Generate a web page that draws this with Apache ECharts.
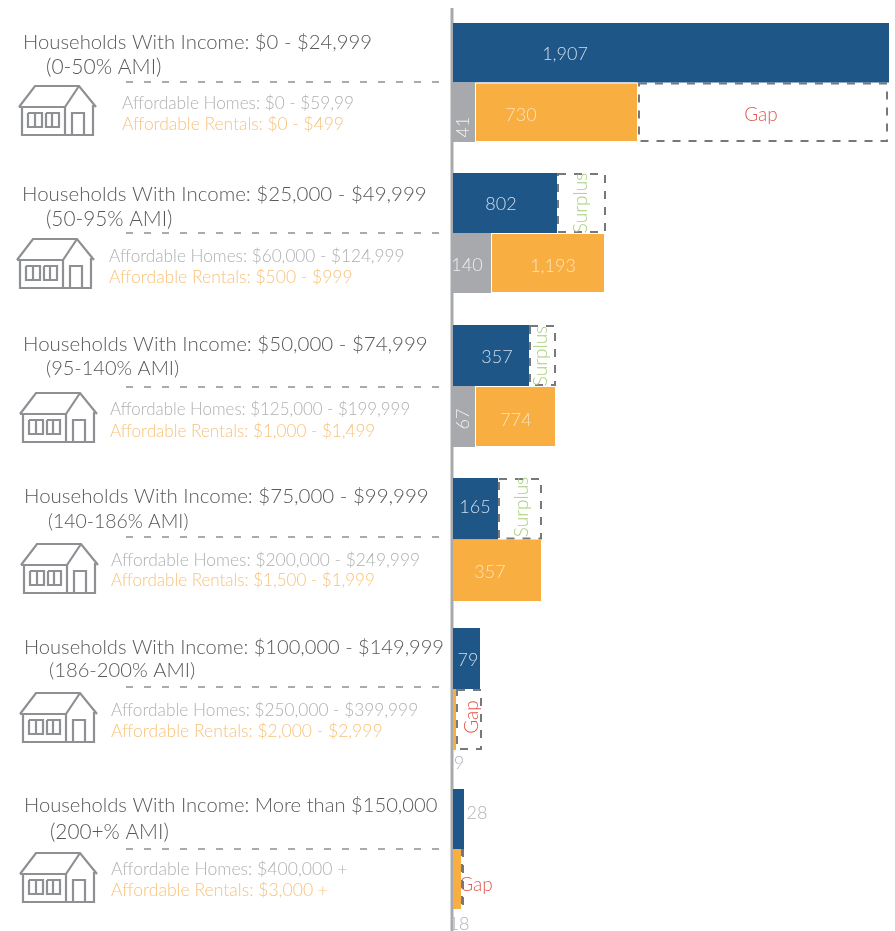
<!DOCTYPE html>
<html>
<head>
<meta charset="utf-8">
<style>html,body{margin:0;padding:0;background:#fff}#c{width:895px;height:931px}</style>
<script src="https://cdn.jsdelivr.net/npm/echarts@6/dist/echarts.min.js"></script>
</head>
<body>
<div id="c"></div>
<script>
// Text
const incomeTitles = [
  'Households With Income: $0 - $24,999',
  'Households With Income: $25,000 - $49,999',
  'Households With Income: $50,000 - $74,999',
  'Households With Income: $75,000 - $99,999',
  'Households With Income: $100,000 - $149,999',
  'Households With Income: More than $150,000'
];
const amiLabels = ['(0-50% AMI)','(50-95% AMI)','(95-140% AMI)','(140-186% AMI)','(186-200% AMI)','(200+% AMI)'];
const homesText = [
  'Affordable Homes: $0 - $59,99',
  'Affordable Homes: $60,000 - $124,999',
  'Affordable Homes: $125,000 - $199,999',
  'Affordable Homes: $200,000 - $249,999',
  'Affordable Homes: $250,000 - $399,999',
  'Affordable Homes: $400,000 +'
];
const rentalsText = [
  'Affordable Rentals: $0 - $499',
  'Affordable Rentals: $500 - $999',
  'Affordable Rentals: $1,000 - $1,499',
  'Affordable Rentals: $1,500 - $1,999',
  'Affordable Rentals: $2,000 - $2,999',
  'Affordable Rentals: $3,000 +'
];
const rowNames = ['Households', 'Homes'];

// Printed values
const householdsPrinted = ['1,907','802','357','165','79','28'];
const homesPrinted      = ['41','140','67','','9',''];
const rentalsPrinted    = ['730','1,193','774','357','','18'];
const balanceWords      = ['Gap','Surplus','Surplus','Surplus','Gap','Gap'];

// Drawn bar lengths (the source graphic is not to a single scale)
const householdsDrawn = [436,104,76,45,27,11];
const surplusDrawn    = [0,49,27,44,0,0];
const homesDrawn      = [22,38,22,0,0,0];
const rentalsDrawn    = [163,114,81,88,3,8];
const gapDrawn        = [250,0,0,0,26,3];

// Layout
const FONT = 'Lato';
const AXIS_X = 453, AXIS_SPAN = 442;
const gridTop = [23,173,325,478,628,789];
const gridH   = [119,120,122,123,122,120];
const titleXY = [[23,42],[22,194],[23,344],[24,496],[24,648],[24,805]];
const amiXY   = [[46,67],[46,219],[46,369],[48,522],[49,670],[50,832]];
const infoX   = [122,109,110,111,111,111];
const infoY   = [[103,124],[256,277],[410,431],[560,581],[710,731],[869,890]];
const ruleY   = [82,233,387,537,687,849];
const iconXY  = [[10,75],[8,228],[11,382],[12,533],[11,682],[11,842]];
const titleSize   = [20.3,20.5,20.5,20.5,20.1,20.2];
const amiSize     = [21,20.8,20,19.4,20.2,20.8];
const homesSize   = [17.2,17.2,16.9,17.4,17.3,17.6];
const rentalsSize = [17.4,17.5,17.1,17,17.5,17.6];
const houseLines = [
  [[9,32],[25,11],[69,11],[86,32]],
  [[69,11],[55,32],[9,32]],
  [[12,32],[12,60],[83,60],[83,30]],
  [[55,32],[55,60]],
  [[62,60],[62,38],[74,38],[74,60]],
  [[18,38],[32,38],[32,52],[18,52],[18,38]],
  [[25,38],[25,52]],
  [[36,38],[49,38],[49,52],[36,52],[36,38]],
  [[42,38],[42,52]]
];

const labelAt = {
  households: [[565,54],[501,204],[497,357],[475,507],[468,660],[477,813]],
  homes:      [[463,127],[467,265],[463,419],null,[459,763],null],
  rentals:    [[521,115],[553,266],[516,420],[490,572],null,[459,924]],
  balance:    [[761,115],[581,203],[541,356],[522,507],[472,717],[476,885]]
};

const C = {blue:'#1f5688', grey:'#a7a9ac', orange:'#f9ae42', dash:'#77787b',
           onBlue:'#cfdeec', onOrange:'#fde3b8', onGrey:'#eeeeee', gap:'#e2574c',
           surplus:'#a8cf7c', faint:'#b1b3b6', title:'#58595b', homes:'#aeb0b2', rentals:'#f8c27a'};

const grids=[], xAxes=[], yAxes=[], series=[], graphics=[];

function barLabel(text, at, start, len, row, g, color, rotate, size){
  if(!text || !at) return {show:false};
  const cx = AXIS_X + start + len/2;
  const cy = gridTop[g] + gridH[g]*(row===0?0.25:0.75);
  const dx = at[0]-cx, dy = at[1]-cy;
  // A rotated label's offset turns with it, so undo the quarter turn.
  const offset = rotate ? [-dy, dx] : [dx, dy];
  return {show:true, formatter:text, position:'inside', color, rotate:rotate||0,
          fontFamily:FONT, fontWeight:300, fontSize:size||18, offset};
}
function addSeries(name, g, row, start, len, itemStyle, label, z){
  const d = [null,null];
  d[row] = {value:len, label};
  series.push({name, type:'bar', xAxisIndex:g, yAxisIndex:g, stack:'g'+g, barWidth:'100%',
    barCategoryGap:0, z, itemStyle, silent:true, data:d, animation:false});
}

incomeTitles.forEach((t,g)=>{
  grids.push({left:AXIS_X, width:AXIS_SPAN, top:gridTop[g], height:gridH[g]});
  xAxes.push({gridIndex:g, type:'value', min:0, max:AXIS_SPAN, show:false});
  yAxes.push({gridIndex:g, type:'category', inverse:true, data:rowNames, show:false});

  const dashed = {color:'rgba(255,255,255,0)', borderColor:C.dash, borderWidth:2, borderType:[8,8]};
  const word = balanceWords[g];
  const wordRot = (g===0 || g===5) ? 0 : 90;
  const wordCol = word==='Gap' ? C.gap : C.surplus;
  const hh = householdsDrawn[g], ho = homesDrawn[g], re = rentalsDrawn[g];

  // Household row
  addSeries('Households', g, 0, 0, hh, {color:C.blue},
    barLabel(householdsPrinted[g], labelAt.households[g], 0, hh, 0, g, g===5?C.faint:C.onBlue), 3);
  if(surplusDrawn[g]) addSeries('Surplus', g, 0, hh, surplusDrawn[g], dashed,
    barLabel(word, labelAt.balance[g], hh, surplusDrawn[g], 0, g, wordCol, wordRot, 19), 2);

  // Supply row
  if(ho || homesPrinted[g]) addSeries('Affordable Homes', g, 1, 0, ho, {color:C.grey},
    barLabel(homesPrinted[g], labelAt.homes[g], 0, ho, 1, g, g===4?C.faint:C.onGrey, (g===0||g===2)?90:0), 3);
  addSeries('Affordable Rentals', g, 1, ho, re, {color:C.orange, borderColor:'#fff', borderWidth:ho?1:0},
    barLabel(rentalsPrinted[g], labelAt.rentals[g], ho, re, 1, g, g===5?C.faint:C.onOrange), 3);
  if(gapDrawn[g]) addSeries('Gap', g, 1, ho+re, gapDrawn[g], dashed,
    barLabel(word, labelAt.balance[g], ho+re, gapDrawn[g], 1, g, wordCol, wordRot, 19), 2);

  // Left-hand text
  const txt=(text,x,y,size,fill)=>graphics.push({type:'text', x, y, z:5, silent:true,
    style:{text, fontFamily:FONT, fontWeight:300, fontSize:size, fill, verticalAlign:'middle', align:'left'}});
  txt(t, titleXY[g][0], titleXY[g][1], titleSize[g], C.title);
  txt(amiLabels[g], amiXY[g][0], amiXY[g][1], amiSize[g], C.title);
  txt(homesText[g], infoX[g], infoY[g][0], homesSize[g], C.homes);
  txt(rentalsText[g], infoX[g], infoY[g][1], rentalsSize[g], C.rentals);

  graphics.push({type:'line', z:1, silent:true, shape:{x1:126,y1:ruleY[g],x2:449,y2:ruleY[g]},
    style:{stroke:'#a9abae', lineWidth:2, lineDash:[7,11]}});
  houseLines.forEach(points=>graphics.push({type:'polyline', z:2, silent:true,
    x:iconXY[g][0], y:iconXY[g][1], shape:{points},
    style:{fill:'none', stroke:'#8e9093', lineWidth:2.2}}));
});

// Vertical baseline
graphics.push({type:'line', z:0, silent:true, shape:{x1:452,y1:8,x2:452,y2:931},
  style:{stroke:C.grey, lineWidth:3}});

const chart = echarts.init(document.getElementById('c'), null, {renderer:'canvas'});
chart.setOption({
  animation:false, backgroundColor:'#fff',
  grid:grids, xAxis:xAxes, yAxis:yAxes, series, graphic:{elements:graphics}
});
</script>
</body>
</html>
